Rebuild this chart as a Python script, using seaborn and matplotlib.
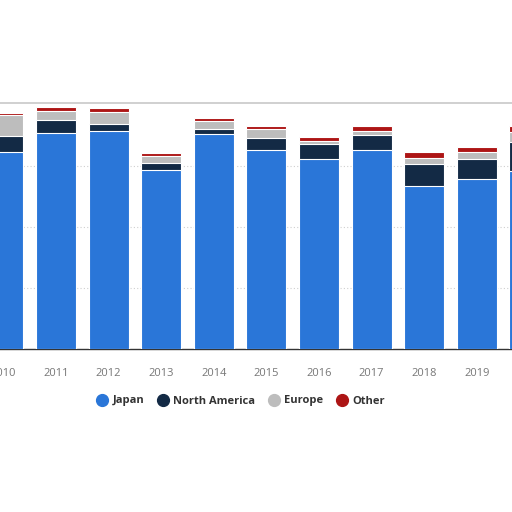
import matplotlib
matplotlib.use("Agg")
import matplotlib.pyplot as plt
import matplotlib.lines as mlines
import numpy as np
import pandas as pd
import seaborn as sns

years = ["2010", "2011", "2012", "2013", "2014", "2015", "2016", "2017", "2018", "2019", "2020"]
japan = [3230, 3541, 3574, 2934, 3520, 3262, 3120, 3262, 2672, 2787, 2918]
north_america = [262, 213, 120, 115, 92, 202, 241, 246, 361, 333, 475]
europe = [344, 152, 187, 120, 126, 138, 49, 61, 98, 115, 164]
other = [25, 56, 66, 49, 44, 59, 70, 92, 103, 82, 98]

regions = ["Japan", "North America", "Europe", "Other"]
colors = ["#2a76d8", "#132a45", "#bdbdbd", "#ad1515"]

df = pd.DataFrame({"year": years, "Japan": japan, "North America": north_america,
                   "Europe": europe, "Other": other})
cum = df[regions].cumsum(axis=1)

sns.set_theme(style="white")
plt.rcParams["font.family"] = ["Open Sans", "DejaVu Sans"]

fig = plt.figure(figsize=(5.12, 5.12), dpi=100)
ax = fig.add_axes([0, 1 - 349 / 512, 1, (349 - 103) / 512])

# stacked bars: draw totals first, then smaller cumulative sums on top
for region, color in reversed(list(zip(regions, colors))):
    sns.barplot(x=df["year"], y=cum[region], color=color, width=0.76,
                edgecolor="white", linewidth=0.8, saturation=1, ax=ax, zorder=3)

ax.set_xlim(-0.065, 9.67)
ax.set_ylim(0, 4033)
ax.set_yticks([1000, 2000, 3000])
ax.yaxis.grid(True, color="#cfcfcf", linestyle=(0, (1, 2)), linewidth=0.8, zorder=0)
ax.set_axisbelow(True)
for s in ["left", "right"]:
    ax.spines[s].set_visible(False)
ax.spines["top"].set_color("#c8c8c8")
ax.spines["top"].set_linewidth(1.2)
ax.spines["bottom"].set_color("#333333")
ax.spines["bottom"].set_linewidth(1)
ax.set_xlabel("")
ax.set_ylabel("")
ax.tick_params(axis="y", left=False, labelleft=False)
ax.tick_params(axis="x", bottom=False, labelsize=8, labelcolor="#777777", pad=8)

handles = [mlines.Line2D([], [], color=c, marker="o", linestyle="", markersize=8.5, label=r)
           for r, c in zip(regions, colors)]
leg = fig.legend(handles=handles, loc="center", bbox_to_anchor=(0.469, 1 - 401 / 512), ncol=4,
                 frameon=False, handletextpad=0.35, columnspacing=1.05, handlelength=1.2,
                 prop={"size": 8, "weight": "bold"})
for t in leg.get_texts():
    t.set_color("#333333")

plt.savefig("out.png", dpi=100)
